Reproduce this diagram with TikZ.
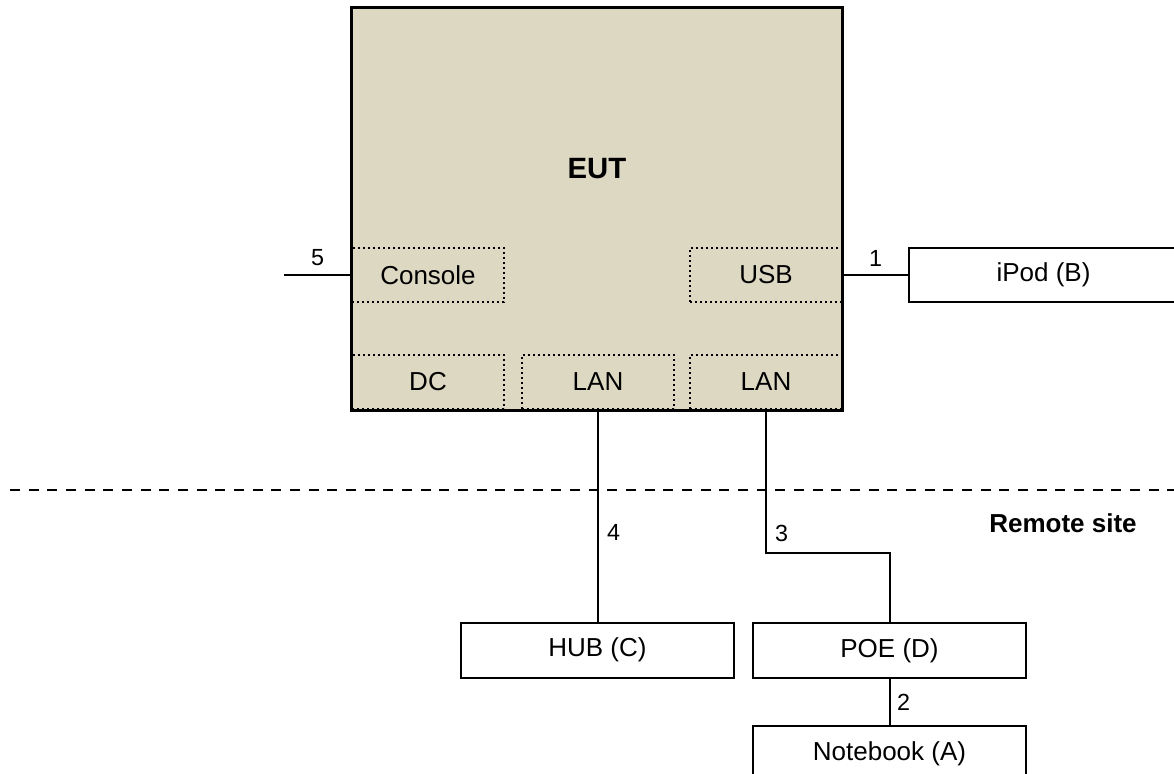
\documentclass[tikz,border=0pt]{standalone}
\usepackage{fontspec}
\setmainfont{Liberation Sans}
\usetikzlibrary{positioning}
\definecolor{eutbeige}{RGB}{221,216,194}
\tikzset{every picture/.style={line width=1.5pt},
  eutbox/.style={draw,fill=eutbeige,minimum width=367.5pt,minimum height=301.5pt,inner sep=0pt},
  port/.style={draw,line width=1.5pt,dash pattern=on 1.5pt off 2.25pt,minimum width=114pt,minimum height=40.5pt,inner sep=0pt,font=\fontsize{19.5}{23}\selectfont},
  devbox/.style={draw,fill=white,minimum width=204.75pt,minimum height=41.25pt,inner sep=0pt,font=\fontsize{19.5}{23}\selectfont},
  num/.style={inner sep=0pt,font=\fontsize{17.5}{20}\selectfont}}

\begin{document}
\begin{tikzpicture}[x=0.75pt,y=-0.75pt]
\clip (0,0) rectangle (1174,774);
% equipment under test with its ports
\node[eutbox] (eut) at (597,209) {};
\node[font=\bfseries\fontsize{22}{26}\selectfont] (euttitle) at (597,169) {EUT};
\node[port] (console) at (428,275) {Console};
\node[port] (usb) at (766,275) {USB};
\node[port] (dc) at (428,382) {DC};
\node[port] (lana) at (598,382) {LAN};
\node[port] (lanb) at (766,382) {LAN};
\draw (eut.south west) rectangle (eut.north east);
% boundary of the remote site
\coordinate (siteleft) at (10,490);
\coordinate (siteright) at (1174,490);
\draw[dash pattern=on 7.5pt off 6.5pt] (siteleft) -- (siteright);
\node[font=\bfseries\fontsize{19.5}{23}\selectfont] (remote) at (1063,523) {Remote site};
% auxiliary equipment
\node[devbox,minimum width=201.75pt,minimum height=40.5pt] (ipod) at (1043.5,275) {iPod (B)};
\node[devbox] (hub) at (597.5,650) {HUB (C)};
\node[devbox] (poe) at (889.5,650.5) {POE (D)};
\node[devbox] (notebook) at (889.5,753.5) {Notebook (A)};
% cables
\coordinate (consoleend) at (284,275);
\draw (consoleend) -- (console.west) node [midway, above=6pt, num] {5};
\draw (usb.east) -- (ipod.west) node [midway, above=6pt, num] {1};
\draw (poe.south) -- (notebook.north) node [midway, right=5pt, num] {2};
\draw (lanb.south) -- node [pos=0.86, right=6pt, num] {3} ++(0,143) -| (poe.north);
\draw (lana.south) -- (lana.south |- hub.north) node [pos=0.58, right=6pt, num] {4};
\end{tikzpicture}
\end{document}
